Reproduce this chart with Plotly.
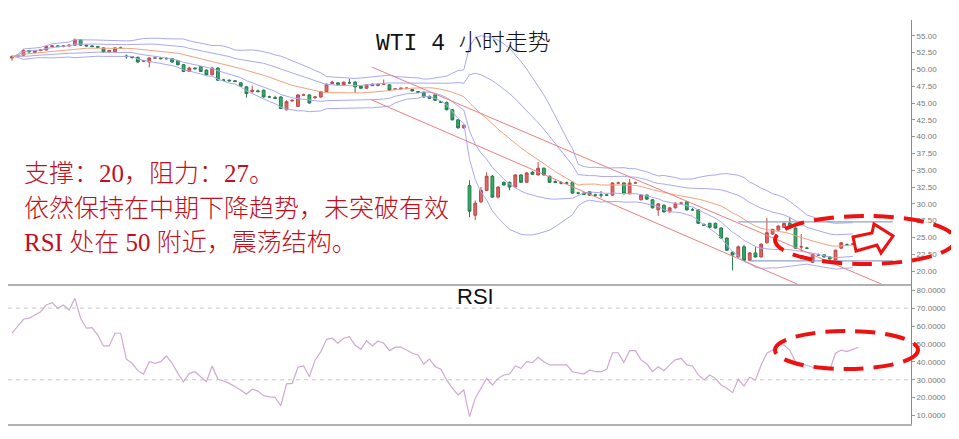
import plotly.graph_objects as go
import pandas as pd

# ---------------- data ----------------
opens = [51.7, 51.9, 52.1, 52.8, 52.5, 52.8, 52.9, 53.4, 53.5, 53.4,
         53.5, 53.6, 54.4, 53.6, 53.5, 53.4, 53.2, 52.6, 52.6, 53.2,
         52.0, 51.9, 51.8, 51.2, 51.1, 51.7, 51.7, 51.6, 51.6, 51.3,
         50.7, 49.7, 50.2, 50.4, 49.9, 49.2, 50.2, 48.4, 48.4, 48.3,
         48.0, 47.4, 46.7, 46.8, 46.9, 45.9, 45.8, 45.9, 44.0, 45.3,
         44.5, 46.2, 46.2, 45.8, 45.9, 46.7, 47.9, 48.0, 47.7, 48.0,
         48.1, 47.5, 47.2, 47.8, 47.6, 47.8, 47.7, 47.0, 47.1, 47.2,
         47.0, 46.7, 46.6, 46.0, 46.2, 45.2, 45.1, 44.0, 42.5, 41.3,
         32.7, 28.3, 30.3, 32.0, 34.1, 31.0, 33.2, 33.2, 32.5, 34.3,
         33.2, 34.7, 34.3, 35.3, 34.1, 33.3, 33.1, 33.1, 33.2, 31.6,
         31.6, 31.8, 31.3, 31.3, 31.3, 31.3, 33.1, 33.1, 31.5, 33.1,
         30.6, 31.3, 30.6, 29.1, 29.8, 28.8, 29.4, 30.1, 30.3, 29.1,
         29.1, 26.9, 27.1, 27.1, 26.4, 24.9, 22.8, 22.1, 23.6, 21.6,
         22.7, 22.1, 24.2, 25.5, 26.1, 26.5, 27.1, 26.4, 23.6, 23.4,
         21.3, 22.4, 22.4, 22.1, 21.6, 23.4, 23.9, 24.0]
highs = [52.1, 52.2, 53.0, 52.9, 52.9, 53.0, 53.6, 53.6, 53.6, 53.6,
         53.7, 54.6, 54.5, 53.7, 53.6, 53.5, 53.3, 52.9, 53.3, 53.4,
         52.2, 52.0, 51.9, 51.4, 51.8, 51.9, 51.8, 51.8, 51.7, 51.4,
         50.8, 50.4, 50.3, 50.5, 50.0, 50.4, 50.3, 48.6, 48.5, 48.4,
         48.1, 47.5, 47.6, 47.0, 47.0, 46.1, 46.1, 46.0, 45.4, 45.5,
         46.3, 46.4, 46.3, 46.0, 46.8, 47.9, 48.3, 48.1, 48.2, 48.6,
         48.3, 47.6, 47.8, 47.9, 47.9, 48.5, 47.8, 47.2, 47.3, 47.3,
         47.1, 46.8, 46.7, 46.1, 46.3, 45.3, 45.2, 44.1, 42.6, 41.8,
         33.5, 30.5, 32.5, 34.7, 34.3, 32.6, 33.3, 33.3, 34.4, 34.4,
         34.7, 34.9, 36.2, 35.4, 34.2, 33.5, 33.3, 33.3, 33.3, 31.8,
         31.7, 31.9, 31.5, 31.9, 31.5, 33.2, 33.3, 33.2, 33.7, 33.3,
         31.4, 31.4, 30.7, 30.1, 29.9, 29.5, 30.2, 30.3, 30.4, 29.4,
         29.2, 27.1, 27.2, 27.2, 26.5, 25.0, 22.9, 23.8, 23.9, 22.8,
         23.6, 24.1, 27.9, 26.3, 26.8, 27.2, 28.0, 26.5, 25.5, 23.6,
         22.6, 22.6, 22.5, 22.2, 23.2, 24.3, 24.1, 24.2]
lows = [51.3, 51.8, 52.0, 52.5, 52.4, 52.7, 52.8, 53.3, 53.3, 53.3,
        53.4, 53.5, 53.5, 53.4, 53.3, 53.2, 52.5, 52.5, 52.5, 53.1,
        51.6, 51.6, 51.0, 51.1, 50.3, 51.6, 51.5, 51.5, 51.0, 50.6,
        49.6, 49.6, 50.0, 49.6, 49.1, 49.1, 48.3, 48.3, 48.2, 48.1,
        47.4, 45.8, 46.5, 46.6, 45.8, 45.8, 45.6, 44.1, 43.9, 45.2,
        44.4, 46.1, 44.9, 45.6, 45.8, 46.6, 47.8, 47.6, 47.6, 47.9,
        46.5, 47.1, 47.1, 47.5, 47.5, 47.7, 46.8, 46.9, 47.0, 47.0,
        46.7, 46.5, 45.8, 45.6, 45.3, 45.0, 43.9, 42.4, 41.2, 41.2,
        28.0, 27.6, 30.1, 31.9, 30.9, 30.8, 32.7, 32.0, 32.4, 33.1,
        33.1, 34.3, 34.2, 34.2, 33.1, 33.1, 32.9, 33.0, 31.5, 31.4,
        31.3, 31.2, 31.1, 30.9, 31.2, 31.2, 33.0, 31.4, 31.4, 33.0,
        30.5, 30.6, 29.3, 28.2, 28.7, 28.7, 29.3, 30.0, 29.0, 29.0,
        27.0, 26.7, 26.4, 26.3, 24.8, 23.0, 20.1, 22.0, 21.5, 21.5,
        22.0, 22.0, 24.1, 25.4, 26.0, 26.4, 26.3, 23.3, 23.0, 23.3,
        21.2, 22.3, 22.0, 21.7, 21.5, 23.3, 23.8, 23.9]
closes = [51.9, 52.1, 52.8, 52.6, 52.8, 52.9, 53.4, 53.5, 53.4, 53.5,
          53.6, 54.4, 53.6, 53.5, 53.4, 53.3, 52.6, 52.8, 53.2, 53.2,
          51.9, 51.8, 51.1, 51.3, 51.7, 51.7, 51.6, 51.6, 51.1, 50.7,
          49.7, 50.2, 50.1, 49.7, 49.2, 50.2, 48.4, 48.4, 48.3, 48.2,
          47.5, 46.4, 46.9, 46.7, 45.9, 45.9, 45.7, 44.2, 45.2, 45.4,
          46.2, 46.2, 45.0, 45.9, 46.7, 47.8, 48.1, 47.7, 48.1, 48.0,
          47.4, 47.2, 47.7, 47.6, 47.8, 47.8, 46.9, 47.1, 47.2, 47.2,
          46.8, 46.6, 45.9, 45.7, 45.4, 45.1, 44.0, 42.5, 41.3, 41.7,
          28.9, 30.1, 32.0, 34.1, 31.0, 32.5, 32.8, 32.5, 34.3, 33.2,
          34.6, 34.4, 35.3, 34.3, 33.2, 33.2, 33.1, 33.1, 31.6, 31.6,
          31.4, 31.3, 31.3, 31.3, 31.3, 33.1, 33.1, 31.5, 33.1, 33.1,
          31.3, 30.7, 29.4, 30.0, 28.8, 29.4, 30.1, 30.1, 29.1, 29.1,
          27.1, 26.8, 26.5, 26.4, 24.9, 23.1, 22.4, 23.6, 21.6, 22.7,
          22.1, 24.0, 25.7, 26.2, 26.7, 27.1, 26.4, 23.4, 23.6, 23.4,
          22.5, 22.4, 22.1, 21.8, 23.1, 24.2, 23.9, 24.0]
rsi_values = [56, 59.7, 63.8, 64.4, 66.2, 68, 71.8, 73.1, 70, 71.8,
              69, 75.5, 64.4, 58.8, 59.1, 55, 48.9, 48.9, 56, 56,
              41.5, 39.2, 35.1, 33.2, 40.1, 39.2, 40.1, 43.3, 39.2, 33.6,
              28.9, 33.6, 34.5, 31.7, 28.9, 37.7, 30.3, 29.3, 28, 26.1,
              24.3, 21.9, 24.7, 23.7, 21.1, 20.5, 20.2, 15.5, 27.7, 28,
              37, 37.7, 31.7, 41.1, 45.7, 52.6, 53.2, 50.4, 53.2, 54.1,
              49.4, 47, 51.8, 48.9, 51.7, 50.4, 46.3, 48.2, 48.2, 46.6,
              44.8, 43.9, 38.8, 41.6, 37.3, 35.9, 29.9, 25.3, 21.5, 24.3,
              9.4, 19.7, 25, 30.8, 27.1, 30.8, 32.7, 33.2, 37.7, 36.4,
              40.1, 39.6, 42.6, 40.1, 38.3, 38.3, 38.3, 38.3, 34.5, 34,
              33.2, 35.5, 34.5, 34.5, 35.9, 45.1, 45.1, 39.6, 46.3, 46.3,
              41.1, 38.8, 34.5, 37.3, 35.1, 38.3, 41.1, 42, 38.3, 37.7,
              32.7, 29.9, 32.7, 30.8, 27.1, 25.3, 22.8, 30.3, 26.5, 31.4,
              29.9, 38.3, 44.8, 46.6, 50, 49.4, 46.6, 40.1, 39.2, 38.3,
              37, 37.3, 36.4, 35.5, 44.8, 46.6, 45.7, 47, 48.2]

# analyst trend channel (bar index, price)
channel_start_x = [62.9, 62.9]
channel_start_y = [50.36, 45.45]
channel_end_x = [155, 140]
channel_end_y = [16.98, 17.07]
# support / resistance levels
level_prices = [27.3, 21.5]
level_start_x = [127, 129]
level_end_x = [154, 154]
# RSI guide levels
rsi_levels = [70, 30]

title_text = "WTI 4 小时走势"
note_lines = ["支撑：20，阻力：27。",
              "依然保持在中期下降趋势，未突破有效",
              "RSI 处在 50 附近，震荡结构。"]

# ---------------- derived indicators ----------------
bars = list(range(len(closes)))
rsi_x = list(range(len(rsi_values)))
s = pd.Series(closes)
mid = s.rolling(20, min_periods=1).mean()
sd = s.rolling(20, min_periods=1).std(ddof=0).fillna(0)

# page has an 8px body margin: figure is sized to fit inside the window
OFF = 8
W, H = 959 - OFF, 439 - OFF
L, R, T, B = 0, 48, 12, 15
PW, PH = W - L - R, H - T - B


def px(sx):
    """screen x -> paper x"""
    return (sx - OFF - L) / PW


def py(sy):
    """screen y -> paper y"""
    return (H - B - (sy - OFF)) / PH


fig = go.Figure()
band_col = "#a9a9f2"
for k in (2, 1, -1, -2):
    fig.add_trace(go.Scatter(x=bars, y=mid + k * sd, mode="lines",
                             line=dict(color=band_col, width=1), hoverinfo="skip"))
fig.add_trace(go.Scatter(x=bars, y=mid, mode="lines",
                         line=dict(color="#f2a27e", width=1), hoverinfo="skip"))
for i in range(len(channel_start_x)):
    fig.add_trace(go.Scatter(x=[channel_start_x[i], channel_end_x[i]],
                             y=[channel_start_y[i], channel_end_y[i]], mode="lines",
                             line=dict(color="#ee7f7f", width=1), hoverinfo="skip"))
for i in range(len(level_prices)):
    fig.add_trace(go.Scatter(x=[level_start_x[i], level_end_x[i]],
                             y=[level_prices[i], level_prices[i]], mode="lines",
                             line=dict(color="#8ea3cc", width=1.3), hoverinfo="skip"))

fig.add_trace(go.Candlestick(
    x=bars, open=opens, high=highs, low=lows, close=closes,
    increasing=dict(line=dict(color="#b94a4a", width=1), fillcolor="#e26565"),
    decreasing=dict(line=dict(color="#237a4b", width=1), fillcolor="#2fae68"),
    whiskerwidth=0, xaxis="x", yaxis="y"))

fig.add_trace(go.Scatter(x=rsi_x, y=rsi_values, mode="lines",
                         line=dict(color="#cfa9d2", width=1.2),
                         xaxis="x2", yaxis="y2", hoverinfo="skip"))

split = py(284)
axis_common = dict(showgrid=False, zeroline=False)
fig.update_layout(
    width=W, height=H, margin=dict(l=L, r=R, t=T, b=B, autoexpand=False),
    paper_bgcolor="white", plot_bgcolor="white", showlegend=False,
    xaxis=dict(domain=[0, 1], range=[-0.7, 157.2], anchor="y", showticklabels=False,
               showline=True, linecolor="#b0b0b0", linewidth=1.5,
               rangeslider=dict(visible=False), **axis_common),
    yaxis=dict(domain=[split, 1], range=[18.07, 57.35], side="right", anchor="x",
               tick0=0, dtick=2.5, tickformat=".2f", showline=True, linecolor="#8a8a8a",
               ticks="outside", ticklen=3, tickcolor="#999",
               tickfont=dict(size=8, color="#777", family="Arial"), **axis_common),
    xaxis2=dict(domain=[0, 1], matches="x", anchor="y2", showticklabels=False,
                showline=True, linecolor="#b0b0b0", linewidth=1.5, **axis_common),
    yaxis2=dict(domain=[0, split], range=[5.3, 83.5], side="right", anchor="x2",
                tick0=0, dtick=10, tickformat=".4f", showline=True, linecolor="#8a8a8a",
                ticks="outside", ticklen=3, tickcolor="#999",
                tickfont=dict(size=8, color="#777", family="Arial"), **axis_common),
)

shapes = []
for lv in rsi_levels:
    shapes.append(dict(type="line", xref="paper", x0=0, x1=1, yref="y2", y0=lv, y1=lv,
                       line=dict(color="#c8c8c8", width=1, dash="4px,4px"), layer="below"))
red = "#ee1111"
shapes.append(dict(type="circle", xref="paper", yref="paper",
                   x0=px(775), x1=px(955), y0=py(264), y1=py(216),
                   line=dict(color=red, width=4, dash="20px,10px")))
shapes.append(dict(type="circle", xref="paper", yref="paper",
                   x0=px(775), x1=px(918), y0=py(369), y1=py(331),
                   line=dict(color=red, width=4, dash="20px,10px")))
arrow_pts = [(856, 251), (853, 237), (872, 233), (874, 224), (893, 236), (881, 253), (877, 245)]
path = "M " + " L ".join(f"{px(a):.4f},{py(b):.4f}" for a, b in arrow_pts) + " Z"
shapes.append(dict(type="path", xref="paper", yref="paper", path=path,
                   line=dict(color=red, width=3), fillcolor="white"))
fig.update_layout(shapes=shapes)

font_cn = "Liberation Serif, Noto Sans CJK SC, sans-serif"
ann = [dict(text=title_text, x=px(463), y=py(43), xref="paper", yref="paper",
            xanchor="center", yanchor="middle", showarrow=False,
            font=dict(size=23, color="#111", weight=300,
                      family="Liberation Mono, Noto Sans CJK SC"))]
for t, yy in zip(note_lines, (173, 208, 242)):
    ann.append(dict(text=t, x=px(22), y=py(yy), xref="paper", yref="paper",
                    xanchor="left", yanchor="middle", showarrow=False,
                    font=dict(size=25, color="#c0101c", weight=300, family=font_cn)))
ann.append(dict(text="RSI", x=px(475), y=py(296), xref="paper", yref="paper",
                xanchor="center", yanchor="middle", showarrow=False,
                font=dict(size=22, color="#111", family="Arial, Liberation Sans")))
fig.update_layout(annotations=ann)

fig.write_html("out.html")
